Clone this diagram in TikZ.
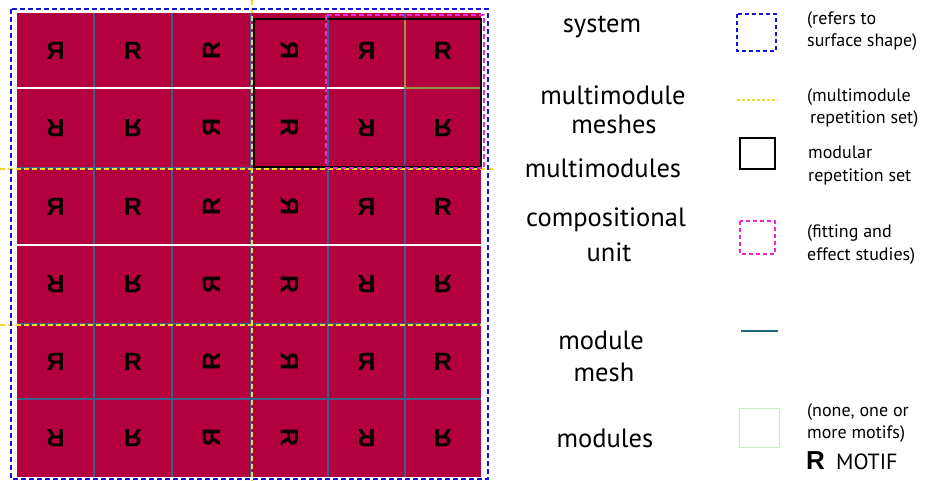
\documentclass[tikz,border=0pt]{standalone}
\usepackage{fontspec}
\usepackage{graphicx}
\setmainfont{PT Sans}
\newfontfamily\motiffont{Liberation Sans}
\definecolor{crim}{RGB}{180,0,62}
\definecolor{meshc}{RGB}{60,95,140}
\definecolor{sysblue}{RGB}{20,20,215}
\definecolor{mmyellow}{RGB}{245,215,50}
\definecolor{compmag}{RGB}{235,40,215}
\definecolor{legline}{RGB}{40,100,130}
\definecolor{modgreen}{RGB}{200,235,200}
\definecolor{olive}{RGB}{150,150,70}
\newcommand{\Rn}{R}
\newcommand{\Rm}{\reflectbox{R}}
\newcommand{\Rcc}{\rotatebox{90}{R}}
\newcommand{\Rcm}{\reflectbox{\rotatebox{90}{R}}}
\newcommand{\Vf}[1]{\scalebox{1}[-1]{#1}}
\begin{document}
\begin{tikzpicture}[x=1pt,y=-1pt,
  motif/.style={font=\motiffont\bfseries\fontsize{25}{25}\selectfont, inner sep=0pt, text=black},
  lab/.style={font=\fontsize{26.5}{30}\selectfont, inner sep=0pt},
  note/.style={font=\fontsize{18}{20}\selectfont, anchor=west, inner sep=0pt},
  meshline/.style={draw=meshc, line width=1.6pt},
  whiteline/.style={draw=white, line width=2pt},
  sysline/.style={draw=sysblue, line width=2.6pt, dash pattern=on 5pt off 3pt},
  mmline/.style={draw=mmyellow, line width=2.8pt, dash pattern=on 5pt off 3pt},
  compline/.style={draw=compmag, line width=2.2pt, dash pattern=on 5pt off 3pt},
  modrep/.style={draw=black, line width=2.6pt}]
\useasboundingbox (0,0) rectangle (932,481);
% grid of modules
\fill[crim] (17,13) rectangle (481,477);
\foreach \x in {94,172,251,328,405} \draw[meshline] (\x,13) -- (\x,477);
\foreach \y in {168,324,399} \draw[meshline] (17,\y) -- (481,\y);
\foreach \y in {88,245} \draw[whiteline] (17,\y) -- (481,\y);
\draw[draw=olive, line width=1.4pt] (405,19) -- (405,88) -- (481,88);
% motifs
\foreach \r/\y in {1/50.5,3/206.5,5/361.5} {
  \node[motif] (c\r1) at (55.5,\y) {\Rm};
  \node[motif] (c\r2) at (133,\y) {\Rn};
  \node[motif] (c\r3) at (211.5,\y) {\Rcc};
  \node[motif] (c\r4) at (289.5,\y) {\Rcm};
  \node[motif] (c\r5) at (366.5,\y) {\Rm};
  \node[motif] (c\r6) at (443,\y) {\Rn};
}
\foreach \r/\y in {2/128,4/284.5,6/438} {
  \node[motif] (c\r1) at (55.5,\y) {\Vf{\Rm}};
  \node[motif] (c\r2) at (133,\y) {\Vf{\Rn}};
  \node[motif] (c\r3) at (211.5,\y) {\Vf{\Rcc}};
  \node[motif] (c\r4) at (289.5,\y) {\Vf{\Rcm}};
  \node[motif] (c\r5) at (366.5,\y) {\Vf{\Rm}};
  \node[motif] (c\r6) at (443,\y) {\Vf{\Rn}};
}
% multimodule meshes
\draw[mmline] (0,169) -- (496,169);
\draw[mmline] (0,325) -- (481,325);
\draw[mmline] (252,0) -- (252,481);
% modular repetition set
\draw[modrep] (254,19) rectangle (481,167);
% compositional unit
\draw[compline] (326,15) rectangle (484,168);
% system
\draw[sysline] (11,9) rectangle (488,479);
% labels
\node[lab] (tsys) at (602,27) {system};
\node[lab] (tmm1) at (613,95) {multimodule};
\node[lab] (tmm2) at (614,124) {meshes};
\node[lab] (tmms) at (603,168) {multimodules};
\node[lab] (tcu1) at (606,220) {compositional};
\node[lab] (tcu2) at (609,252) {unit};
\node[lab] (tmo1) at (601,340) {module};
\node[lab] (tmo2) at (604,372) {mesh};
\node[lab] (tmod) at (605,438) {modules};
% legend symbols
\draw[sysline, line width=2.4pt, dash pattern=on 4pt off 3pt] (737,14) rectangle (776,51);
\draw[mmline, line width=1.8pt, dash pattern=on 3pt off 2pt] (737,100) -- (778,100);
\draw[modrep] (740,138) rectangle (775,169);
\draw[compline, line width=2.2pt, dash pattern=on 4pt off 3pt] (740,221) rectangle (775,254);
\draw[draw=legline, line width=2pt] (741,331) -- (778,331);
\draw[draw=modgreen, line width=0.8pt] (739,408) rectangle (779,447);
% legend notes
\node[note] (n1a) at (807,20) {(refers to};
\node[note] (n1b) at (807,42) {surface shape)};
\node[note] (n2a) at (807,97) {(multimodule};
\node[note] (n2b) at (810,119) {repetition set)};
\node[note] (n3a) at (808,152) {modular};
\node[note] (n3b) at (808,177) {repetition set};
\node[note] (n4a) at (807,233) {(fitting and};
\node[note] (n4b) at (807,256) {effect studies)};
\node[note] (n5a) at (807,412) {(none, one or};
\node[note] (n5b) at (807,434) {more motifs)};
\node[note, font=\motiffont\bfseries\fontsize{26}{26}\selectfont] (mr) at (806,461) {R};
\node[note, font=\fontsize{22}{22}\selectfont] (mt) at (836,462) {MOTIF};
\end{tikzpicture}
\end{document}
